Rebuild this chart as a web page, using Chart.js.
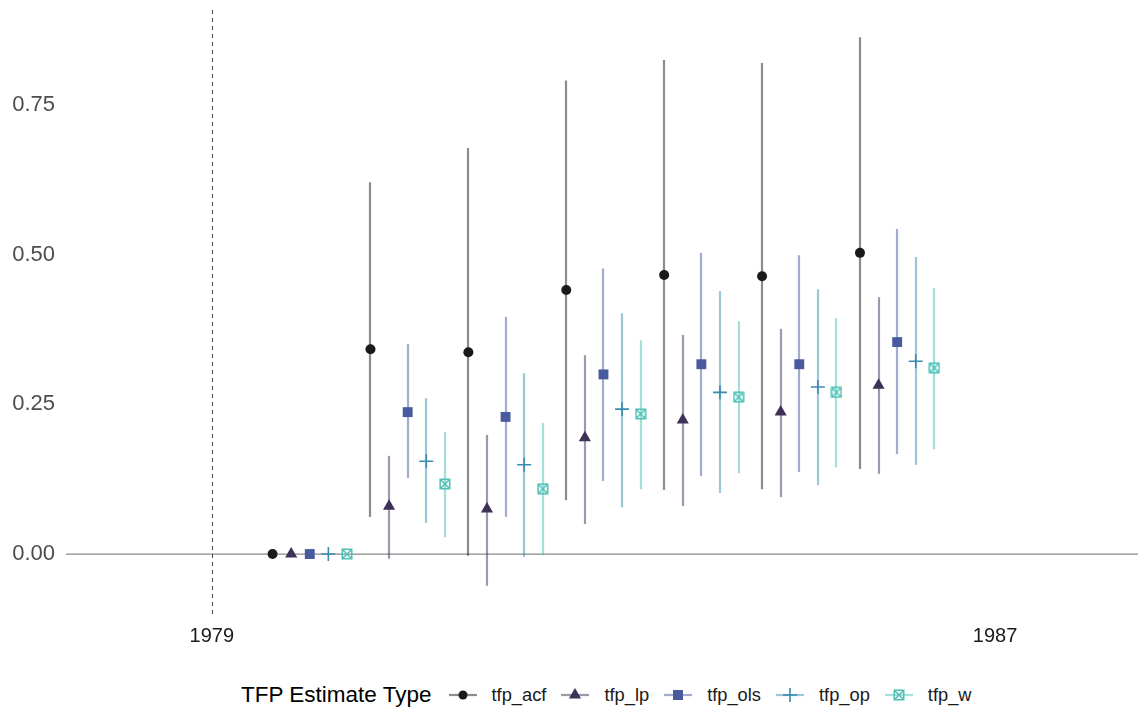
<!DOCTYPE html>
<html>
<head>
<meta charset="utf-8">
<script src="https://cdn.jsdelivr.net/npm/chart.js@4.4.1/dist/chart.umd.min.js"></script>
<style>
  body { margin: 0; background: #fff; font-family: "Liberation Sans", Arial, sans-serif; }
  #wrap { position: relative; width: 1138px; height: 710px; }
  #legend { position: absolute; left: 241px; top: 682px; display: flex; align-items: center; white-space: nowrap; }
  #legend .title { font-size: 22.5px; color: #000; margin-right: 17px; }
  #legend .item { display: flex; align-items: center; margin-right: 15px; }
  #legend canvas { margin-right: 15px; }
  #legend span.lbl { font-size: 18.3px; color: #1a1a1a; }
</style>
</head>
<body>
<div id="wrap">
  <canvas id="myChart" width="1138" height="650"></canvas>
  <div id="legend"></div>
</div>
<script>
const years = [1980, 1981, 1982, 1983, 1984, 1985, 1986];
const tickYears = [1979, 1987];
const yTicks = [0, 0.25, 0.5, 0.75];
const eventYear = 1979;

const seriesNames = ['tfp_acf', 'tfp_lp', 'tfp_ols', 'tfp_op', 'tfp_w'];

const acfEst  = [0, 0.342, 0.337, 0.441, 0.466, 0.464, 0.503];
const acfLow  = [null, 0.062, -0.003, 0.090, 0.107, 0.108, 0.142];
const acfHigh = [null, 0.621, 0.678, 0.791, 0.825, 0.820, 0.863];

const lpEst  = [0, 0.080, 0.075, 0.194, 0.224, 0.237, 0.282];
const lpLow  = [null, -0.008, -0.053, 0.050, 0.080, 0.095, 0.134];
const lpHigh = [null, 0.164, 0.199, 0.332, 0.366, 0.376, 0.429];

const olsEst  = [0, 0.237, 0.229, 0.300, 0.317, 0.317, 0.354];
const olsLow  = [null, 0.127, 0.062, 0.122, 0.130, 0.137, 0.167];
const olsHigh = [null, 0.351, 0.396, 0.477, 0.503, 0.499, 0.543];

const opEst  = [0, 0.155, 0.149, 0.242, 0.270, 0.279, 0.322];
const opLow  = [null, 0.052, -0.005, 0.078, 0.102, 0.115, 0.149];
const opHigh = [null, 0.260, 0.302, 0.402, 0.439, 0.442, 0.496];

const wEst  = [0, 0.117, 0.109, 0.234, 0.262, 0.270, 0.311];
const wLow  = [null, 0.028, -0.002, 0.108, 0.135, 0.145, 0.175];
const wHigh = [null, 0.204, 0.219, 0.357, 0.389, 0.394, 0.444];

const estimates = [acfEst, lpEst, olsEst, opEst, wEst];
const lows = [acfLow, lpLow, olsLow, opLow, wLow];
const highs = [acfHigh, lpHigh, olsHigh, opHigh, wHigh];

// colours: marker, error bar
const markColors = ['#1a1a1a', '#3d3158', '#4a5a9e', '#3a8bb0', '#4cc0b4'];
const barColors = ['rgba(26,26,26,0.5)', 'rgba(61,49,88,0.5)', 'rgba(74,90,158,0.5)', 'rgba(58,139,176,0.5)', 'rgba(76,192,180,0.5)'];

// position dodge, in years
const dodge = 0.19;

// square with an x through it
function squareCross(color) {
  const c = document.createElement('canvas');
  c.width = 12; c.height = 12;
  const g = c.getContext('2d');
  g.strokeStyle = color;
  g.lineWidth = 1.5;
  g.strokeRect(1.25, 1.25, 9.5, 9.5);
  g.beginPath();
  g.moveTo(1.5, 1.5); g.lineTo(10.5, 10.5);
  g.moveTo(10.5, 1.5); g.lineTo(1.5, 10.5);
  g.stroke();
  return c;
}

const pointStyles = ['circle', 'triangle', 'rect', 'cross', squareCross(markColors[4])];
const pointRadii = [5, 7, 7, 7, 6];

function offsetOf(i) {
  return (i - 2) * dodge;
}

function getDataSets() {
  return seriesNames.map((name, i) => ({
    label: name,
    data: years.map((yr, j) => ({ x: yr + offsetOf(i), y: estimates[i][j] })),
    pointStyle: pointStyles[i],
    pointRadius: pointRadii[i],
    pointHoverRadius: pointRadii[i],
    backgroundColor: markColors[i],
    borderColor: markColors[i],
    borderWidth: i === 3 ? 1.6 : 0,
    showLine: false
  }));
}

const errorBars = {
  id: 'errorBars',
  beforeDatasetsDraw(chart) {
    const { ctx, chartArea, scales } = chart;
    const x = scales.x, y = scales.y;
    ctx.save();

    // zero line
    const y0 = y.getPixelForValue(0);
    ctx.strokeStyle = '#8a8a8a';
    ctx.lineWidth = 1.2;
    ctx.beginPath();
    ctx.moveTo(chartArea.left, y0);
    ctx.lineTo(chartArea.right, y0);
    ctx.stroke();

    // error bars
    ctx.lineWidth = 2.2;
    seriesNames.forEach((name, i) => {
      ctx.strokeStyle = barColors[i];
      years.forEach((yr, j) => {
        if (lows[i][j] === null) return;
        const px = Math.round(x.getPixelForValue(yr + offsetOf(i)));
        ctx.beginPath();
        ctx.moveTo(px, y.getPixelForValue(lows[i][j]));
        ctx.lineTo(px, y.getPixelForValue(highs[i][j]));
        ctx.stroke();
      });
    });

    // treatment year
    const xv = Math.round(x.getPixelForValue(eventYear)) + 0.5;
    ctx.strokeStyle = '#4d4d4d';
    ctx.lineWidth = 1.1;
    ctx.setLineDash([4, 4]);
    ctx.beginPath();
    ctx.moveTo(xv, chartArea.top);
    ctx.lineTo(xv, chartArea.bottom);
    ctx.stroke();
    ctx.restore();
  }
};

const config = {
  type: 'scatter',
  data: { datasets: getDataSets() },
  options: {
    responsive: false,
    animation: false,
    layout: { autoPadding: false, padding: { top: 10, right: 0, left: 0, bottom: 0 } },
    plugins: {
      legend: { display: false },
      tooltip: { enabled: false }
    },
    scales: {
      x: {
        type: 'linear',
        min: 1977.51,
        max: 1988.46,
        grid: { display: false, drawTicks: false },
        border: { display: false },
        afterBuildTicks: (scale) => { scale.ticks = tickYears.map(v => ({ value: v })); },
        afterFit: (scale) => {
          scale.height = 34;
          scale.paddingLeft = 0;
          scale.paddingRight = 0;
        },
        ticks: {
          padding: 8,
          maxRotation: 0,
          color: '#1a1a1a',
          font: { family: '"Liberation Sans", Arial, sans-serif', size: 20 },
          callback: (v) => String(v)
        }
      },
      y: {
        min: -0.1035,
        max: 0.9086,
        grid: { display: false, drawTicks: false },
        border: { display: false },
        afterBuildTicks: (scale) => { scale.ticks = yTicks.map(v => ({ value: v })); },
        afterFit: (scale) => {
          scale.width = 66;
          scale.paddingTop = 0;
          scale.paddingBottom = 0;
        },
        ticks: {
          padding: 11,
          color: '#4d4d4d',
          font: { family: '"Liberation Sans", Arial, sans-serif', size: 22 },
          callback: (v) => v.toFixed(2)
        }
      }
    }
  },
  plugins: [errorBars]
};

const chart = new Chart(document.getElementById('myChart'), config);

// legend: line + marker glyph then label
function drawGlyph(g, i) {
  g.strokeStyle = barColors[i];
  g.lineWidth = 2.2;
  g.beginPath();
  g.moveTo(0, 8); g.lineTo(28, 8);
  g.stroke();
  const cx = 14, cy = 8;
  g.fillStyle = markColors[i];
  g.strokeStyle = markColors[i];
  if (i === 0) {
    g.beginPath(); g.arc(cx, cy, 4.5, 0, Math.PI * 2); g.fill();
  } else if (i === 1) {
    const r = 7;
    g.beginPath();
    g.moveTo(cx, cy - r);
    g.lineTo(cx + r * 0.866, cy + r * 0.5);
    g.lineTo(cx - r * 0.866, cy + r * 0.5);
    g.closePath(); g.fill();
  } else if (i === 2) {
    g.fillRect(cx - 5, cy - 5, 10, 10);
  } else if (i === 3) {
    g.lineWidth = 1.6;
    g.beginPath();
    g.moveTo(cx - 7, cy); g.lineTo(cx + 7, cy);
    g.moveTo(cx, cy - 7); g.lineTo(cx, cy + 7);
    g.stroke();
  } else {
    g.drawImage(pointStyles[4], cx - 6, cy - 6);
  }
}

const legend = document.getElementById('legend');
legend.innerHTML = '<span class="title">TFP Estimate Type</span>';
seriesNames.forEach((name, i) => {
  const item = document.createElement('div');
  item.className = 'item';
  const c = document.createElement('canvas');
  c.width = 28; c.height = 16;
  drawGlyph(c.getContext('2d'), i);
  item.appendChild(c);
  const s = document.createElement('span');
  s.className = 'lbl';
  s.textContent = name;
  item.appendChild(s);
  legend.appendChild(item);
});
</script>
</body>
</html>
